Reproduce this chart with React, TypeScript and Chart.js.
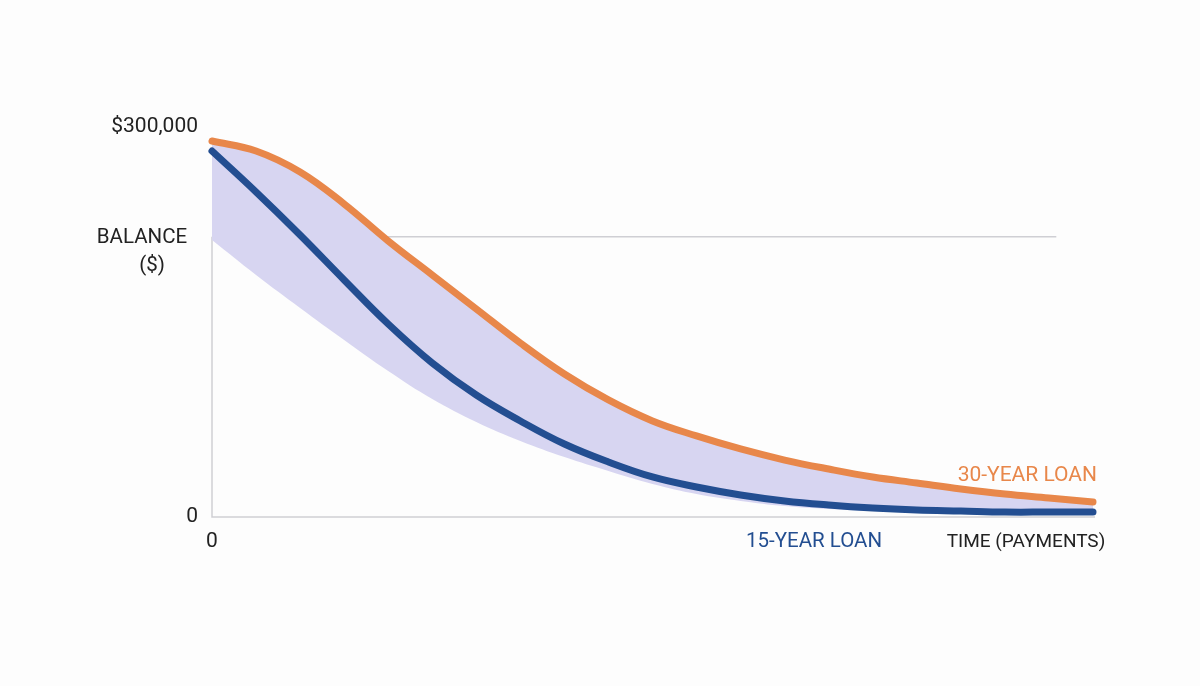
import React, { useEffect, useRef } from 'react';
import { Chart, registerables } from 'chart.js';

Chart.register(...registerables);

// payments (0..360, every 18) and balances
const payments = [0, 18, 36, 54, 72, 90, 108, 126, 144, 162, 180, 198, 216, 234, 252, 270, 288, 306, 324, 342, 360];
const loan30 = [288500, 280800, 264700, 240200, 211800, 185700, 159600, 133500, 109700, 89800, 73700, 62200, 52200, 43700, 36800, 30700, 26100, 21500, 17600, 14600, 11500];
const loan15 = [280800, 249400, 216400, 181900, 148100, 118200, 93600, 73700, 56000, 42200, 30700, 23000, 16900, 12300, 9200, 6900, 5400, 4600, 3800, 3800, 3800];
const lowerBand = [212500, 185700, 160400, 135800, 112000, 90500, 72900, 58300, 46000, 35300, 25300, 17600, 12300, 8400, 6100, 4600, 3100, 2300, 1900, 1500, 1500];

const balanceLine = 215000;
const gridEnd = 345;
const yMax = 300000;

const ORANGE = '#E8874A';
const BLUE = '#234E91';
const FONT = 'Roboto, "Noto Sans", sans-serif';

const toPoints = (vals: number[]) => vals.map((v, i) => ({ x: payments[i], y: v }));

const decorations = {
    id: 'decorations',
    beforeDatasetsDraw(chart: any) {
        const { ctx } = chart;
        const xs = chart.scales.x;
        const ys = chart.scales.y;
        const x0 = xs.getPixelForValue(0);
        const y0 = ys.getPixelForValue(0);
        ctx.save();
        ctx.strokeStyle = '#cfcfd4';
        ctx.lineWidth = 1.5;
        // axes
        ctx.beginPath();
        ctx.moveTo(x0, ys.getPixelForValue(balanceLine));
        ctx.lineTo(x0, y0);
        ctx.lineTo(xs.getPixelForValue(payments[payments.length - 1]) + 2, y0);
        ctx.stroke();
        // grid line at the balance label
        const gy = ys.getPixelForValue(balanceLine);
        ctx.beginPath();
        ctx.moveTo(x0, gy);
        ctx.lineTo(xs.getPixelForValue(gridEnd), gy);
        ctx.stroke();
        ctx.restore();
    },
    afterDatasetsDraw(chart: any) {
        const { ctx } = chart;
        const xs = chart.scales.x;
        const ys = chart.scales.y;
        const x0 = xs.getPixelForValue(0);
        const y0 = ys.getPixelForValue(0);
        const xEnd = xs.getPixelForValue(payments[payments.length - 1]);
        ctx.save();
        ctx.textBaseline = 'middle';
        ctx.fillStyle = '#222';

        ctx.font = `21px ${FONT}`;
        ctx.textAlign = 'right';
        ctx.fillText('$300,000', x0 - 14, ys.getPixelForValue(yMax) + 1);
        ctx.fillText('0', x0 - 14, y0);

        ctx.textAlign = 'center';
        ctx.fillText('0', x0, y0 + 25);
        ctx.font = `20.5px ${FONT}`;
        const gy = ys.getPixelForValue(balanceLine);
        ctx.fillText('BALANCE', x0 - 70, gy + 1);
        ctx.fillText('($)', x0 - 60, gy + 29);

        ctx.font = `19px ${FONT}`;
        ctx.fillText('TIME (PAYMENTS)', xEnd - 67, y0 + 25);
        ctx.font = `20.5px ${FONT}`;
        ctx.fillStyle = BLUE;
        ctx.fillText('15-YEAR LOAN', xs.getPixelForValue(246), y0 + 25);

        ctx.font = `21px ${FONT}`;
        ctx.textAlign = 'right';
        ctx.fillStyle = ORANGE;
        ctx.fillText('30-YEAR LOAN', xEnd + 4, ys.getPixelForValue(loan30[loan30.length - 1]) - 26);
        ctx.restore();
    },
};

const App: React.FC = () => {
    const chartRef = useRef<HTMLCanvasElement | null>(null);
    const chartInstanceRef = useRef<Chart | null>(null);

    useEffect(() => {
        if (!chartRef.current) return;
        if (chartInstanceRef.current) {
            chartInstanceRef.current.destroy();
        }
        const ctx = chartRef.current.getContext('2d');
        if (!ctx) return;

        chartInstanceRef.current = new Chart(ctx, {
            type: 'line',
            data: {
                datasets: [
                    {
                        label: '15-Year Loan',
                        data: toPoints(loan15),
                        borderColor: BLUE,
                        borderWidth: 7,
                        borderCapStyle: 'round',
                        pointRadius: 0,
                        tension: 0.4,
                        fill: false,
                        clip: false,
                    },
                    {
                        label: '30-Year Loan',
                        data: toPoints(loan30),
                        borderColor: ORANGE,
                        borderWidth: 7,
                        borderCapStyle: 'round',
                        pointRadius: 0,
                        tension: 0.4,
                        fill: { target: 2 },
                        backgroundColor: '#d7d5f1',
                        clip: false,
                    },
                    {
                        label: 'band',
                        data: toPoints(lowerBand),
                        borderWidth: 0,
                        borderColor: 'rgba(0,0,0,0)',
                        pointRadius: 0,
                        tension: 0.4,
                        fill: false,
                    },
                ],
            },
            options: {
                responsive: true,
                maintainAspectRatio: false,
                animation: false,
                layout: { padding: { left: 212, right: 107, top: 126, bottom: 169 } },
                plugins: {
                    legend: { display: false },
                    tooltip: { enabled: false },
                },
                scales: {
                    x: { type: 'linear', min: 0, max: 360, display: false },
                    y: { min: 0, max: yMax, display: false },
                },
            },
            plugins: [decorations],
        });

        return () => {
            if (chartInstanceRef.current) {
                chartInstanceRef.current.destroy();
                chartInstanceRef.current = null;
            }
        };
    }, []);

    return (
        <div style={{ position: 'absolute', left: 0, top: 0, width: 1200, height: 686, background: '#fdfdfd' }}>
            <canvas ref={chartRef} />
        </div>
    );
};

export default App;
